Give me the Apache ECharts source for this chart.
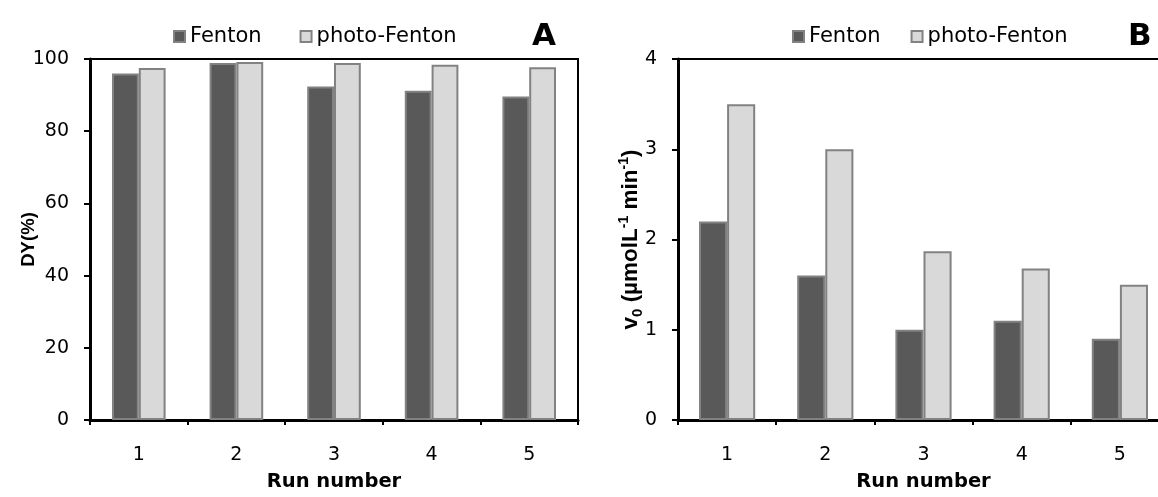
<!DOCTYPE html>
<html>
<head>
<meta charset="utf-8">
<script src="https://cdn.jsdelivr.net/npm/echarts@6/dist/echarts.min.js"></script>
<style>
html,body{margin:0;padding:0;background:#fff;overflow:hidden;width:1158px;height:497px;}
#c{width:1180px;height:497px;}
</style>
</head>
<body>
<div id="c"></div>
<script>
const runs = ['1', '2', '3', '4', '5'];
const seriesNames = ['Fenton', 'photo-Fenton'];
const dyFenton = [96.0, 98.9, 92.4, 91.2, 89.6];
const dyPhoto = [97.5, 99.2, 98.9, 98.4, 97.7];
const v0Fenton = [2.2, 1.6, 1.0, 1.1, 0.9];
const v0Photo = [3.5, 3.0, 1.87, 1.68, 1.5];

const FONT = 'DejaVu Sans';
const darkFill = '#595959', lightFill = '#d9d9d9', edge = '#828282';

const chart = echarts.init(document.getElementById('c'), null, {renderer: 'canvas'});

function xAx(gi) {
  return {
    type: 'category', gridIndex: gi, data: runs,
    name: 'Run number', nameLocation: 'middle', nameGap: 52, nameMoveOverlap: false,
    nameTextStyle: {fontFamily: FONT, fontWeight: 'bold', fontSize: 19.5, color: '#000'},
    axisLine: {lineStyle: {color: '#000', width: 3}},
    axisTick: {show: true, length: 5, lineStyle: {color: '#000', width: 2}},
    axisLabel: {fontFamily: FONT, fontSize: 19, color: '#000', margin: 26}
  };
}
function yAx(gi, max, interval, name, gap, rich) {
  const o = {
    type: 'value', gridIndex: gi, min: 0, max: max, interval: interval,
    name: name, nameLocation: 'middle', nameGap: gap, nameMoveOverlap: false,
    nameTextStyle: {fontFamily: 'Liberation Sans', fontWeight: 'bold', fontSize: 18.6, color: '#000'},
    axisLine: {show: true, lineStyle: {color: '#000', width: 3}},
    axisTick: {show: true, length: 6, lineStyle: {color: '#000', width: 2}},
    axisLabel: {fontFamily: FONT, fontSize: 19, color: '#000', margin: 21},
    splitLine: {show: false}
  };
  if (rich) o.nameTextStyle.rich = rich;
  return o;
}
function bar(name, gi, data, fill, bw) {
  return {
    type: 'bar', name: name, xAxisIndex: gi, yAxisIndex: gi, data: data,
    barWidth: bw, barGap: '0%',
    itemStyle: {color: fill, borderColor: edge, borderWidth: 2},
    emphasis: {disabled: true}
  };
}
const richB = {
  b: {fontFamily: 'Liberation Sans', fontWeight: 'bold', fontSize: 22.5, color: '#000'},
  sub: {fontFamily: 'Liberation Sans', fontWeight: 'bold', fontSize: 15, color: '#000', verticalAlign: 'bottom', padding: [0, 0, -3, 0]},
  sup: {fontFamily: 'Liberation Sans', fontWeight: 'bold', fontSize: 14, color: '#000', verticalAlign: 'top', padding: [-2, 0, 0, 0]}
};

const option = {
  animation: false,
  backgroundColor: '#fff',
  title: [
    {text: 'A', left: 527, top: 16, textStyle: {fontFamily: FONT, fontWeight: 'bold', fontSize: 31, color: '#000'}},
    {text: 'B', left: 1123, top: 16, textStyle: {fontFamily: FONT, fontWeight: 'bold', fontSize: 31, color: '#000'}}
  ],
  legend: [
    {data: seriesNames, left: 168, top: 21, itemWidth: 11, itemHeight: 11, itemGap: 38, icon: 'rect',
     textStyle: {fontFamily: FONT, fontSize: 21, color: '#000'}, selectedMode: false},
    {data: seriesNames, left: 787, top: 21, itemWidth: 11, itemHeight: 11, itemGap: 30, icon: 'rect',
     textStyle: {fontFamily: FONT, fontSize: 21, color: '#000'}, selectedMode: false}
  ],
  grid: [
    {left: 90, top: 59, width: 488, height: 363, show: true, borderColor: '#000', borderWidth: 2, backgroundColor: 'transparent'},
    {left: 678, top: 59, width: 491, height: 361, show: true, borderColor: '#000', borderWidth: 2, backgroundColor: 'transparent'}
  ],
  xAxis: [xAx(0), xAx(1)],
  yAxis: [
    yAx(0, 100, 20, 'DY(%)', 52),
    yAx(1, 4, 1, '{b|v}{sub|0}{b| (µmolL}{sup|-1}{b| min}{sup|-1}{b|)}', 36, richB)
  ],
  series: [
    bar('Fenton', 0, dyFenton, darkFill, 26.8),
    bar('photo-Fenton', 0, dyPhoto, lightFill, 26.8),
    bar('Fenton', 1, v0Fenton, darkFill, 28.1),
    bar('photo-Fenton', 1, v0Photo, lightFill, 28.1)
  ]
};
chart.setOption(option);
</script>
</body>
</html>
